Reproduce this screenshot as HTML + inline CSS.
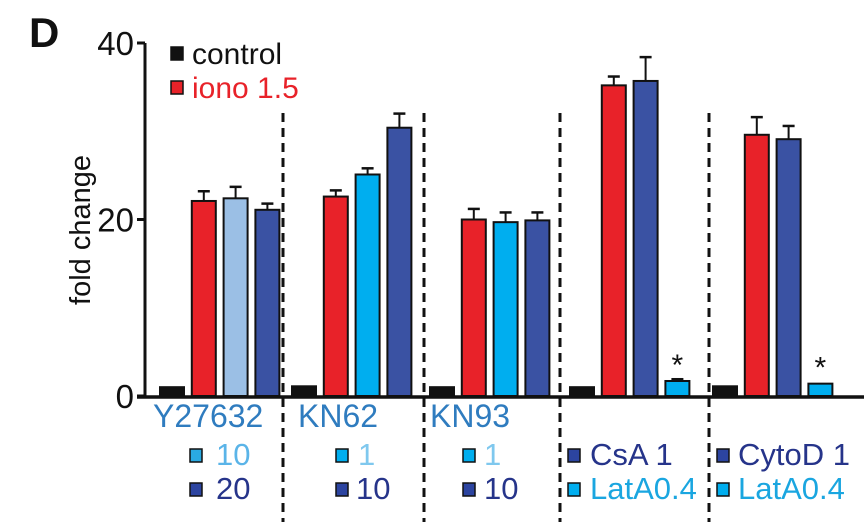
<!DOCTYPE html>
<html><head><meta charset="utf-8"><style>
body{margin:0;background:#fff}
svg{display:block;font-family:"Liberation Sans",Arial,sans-serif}
</style></head><body>
<svg width="864" height="522" viewBox="0 0 864 522">
<text x="29" y="47" font-size="42" font-weight="bold" fill="#111">D</text>
<g id="axes"></g>
<g id="bars"></g>
<g id="labels"></g>
</svg>
<script>
const groups = ["Y27632","KN62","KN93","CsA-LatA","CytoD-LatA"];
const barValues = [[1.0,22.1,22.4,21.1],[1.1,22.6,25.1,30.4],[1.0,20.0,19.7,19.9],[1.0,35.2,35.7,1.7],[1.1,29.6,29.1,1.4]];
const barErrors = [[0.1,1.1,1.3,0.7],[0.1,0.7,0.7,1.6],[0.1,1.2,1.1,0.9],[0.1,1.0,2.7,0.2],[0.1,2.0,1.5,0.1]];
const barColorKeys = [["k","r","lb","b"],["k","r","c","b"],["k","r","c","b"],["k","r","b","c"],["k","r","b","c"]];
const starred = [[false,false,false,false],[false,false,false,false],[false,false,false,false],[false,false,false,true],[false,false,false,true]];
const yTicks = [0,20,40];

const NS="http://www.w3.org/2000/svg";
const colors={k:"#111",r:"#e82229",lb:"#9bbfe5",c:"#00aeef",b:"#3a52a3"};
const y0=396, yTop=43, yMax=40;
function y(v){return y0-(v/yMax)*(y0-yTop);}
const groupStart=[160,292,430,570,713];
function x(gi,bi){return groupStart[gi]+bi*31.8;}
const bw=24;
function el(tag,attrs,parent){const e=document.createElementNS(NS,tag);for(const k in attrs)e.setAttribute(k,attrs[k]);parent.appendChild(e);return e;}
const axes=document.getElementById('axes'), bars=document.getElementById('bars'), labels=document.getElementById('labels');

[283,424,560,709].forEach(dx=>{
  const l=el('line',{x1:dx,x2:dx,y1:113,y2:522,stroke:'#111','stroke-width':3,'stroke-dasharray':'9,6'},axes);
  
  
});
const ya=el('line',{x1:145,x2:145,y1:yTop,y2:y0+1,stroke:'#111','stroke-width':3},axes);


const xa=el('line',{x1:137,x2:864,y1:y0+1,y2:y0+1,stroke:'#111','stroke-width':3.5},axes);


yTicks.forEach(t=>{
  el('line',{x1:137,x2:145,y1:y(t),y2:y(t),stroke:'#111','stroke-width':3},axes);
  const tx=el('text',{x:134,y:y(t)+12,'font-size':33,'text-anchor':'end',fill:'#111'},axes);
  tx.textContent=t;
  
  
});
const yt=el('text',{x:0,y:0,'font-size':29,'text-anchor':'middle',fill:'#111',transform:'translate(90,230) rotate(-90)'},axes);
yt.textContent='fold change';



barValues.forEach((row,gi)=>{
  row.forEach((v,bi)=>{
    const bx=x(gi,bi), top=y(v), et=y(v+barErrors[gi][bi]), cx=bx+bw/2;
    if(barErrors[gi][bi]>0.15){
      el('line',{x1:cx,x2:cx,y1:et,y2:top,stroke:'#111','stroke-width':2},bars);
      el('line',{x1:cx-6,x2:cx+6,y1:et,y2:et,stroke:'#111','stroke-width':2.5},bars);
    }
    const r=el('rect',{x:bx,y:top,width:bw,height:y0-top,fill:colors[barColorKeys[gi][bi]],stroke:'#111','stroke-width':2},bars);
    
    
    if(starred[gi][bi]){
      const s=el('text',{x:cx,y:top-6,'font-size':30,'text-anchor':'middle',fill:'#111'},bars);
      s.textContent='*';
      
      
    }
  });
});

function sw(xx,yy,c,name){
  const r=el('rect',{x:xx,y:yy,width:12,height:13,fill:c,stroke:'#111','stroke-width':1.5},labels);
  
  
}
function txt(xx,yy,s,c,name,size){
  const t=el('text',{x:xx,y:yy,'font-size':size||31,fill:c},labels);
  t.textContent=s;
  
  
}
sw(171,47,colors.k,'legend-swatch-control');
txt(192,64,'control','#111','legend-control',30);
sw(171,81,colors.r,'legend-swatch-iono');
txt(192,98,'iono 1.5','#e82229','legend-iono',30);

const gc='#2f7cbf', dk='#26348a', db='#2c44a0', lc='#1aa6e0', cy='#00aeef';
txt(153,427,'Y27632',gc,'group-label-y27632',32);
txt(298,427,'KN62',gc,'group-label-kn62',32);
txt(430,427,'KN93',gc,'group-label-kn93',32);

sw(190,449,'#2aaae2','swatch-y27632-10');
txt(216,465,'10','#5ab4e8','dose-y27632-10');
sw(190,483,db,'swatch-y27632-20');
txt(216,499,'20',dk,'dose-y27632-20');

sw(336,449,cy,'swatch-kn62-1');
txt(358,465,'1','#7fc8ee','dose-kn62-1');
sw(336,483,db,'swatch-kn62-10');
txt(356,499,'10',dk,'dose-kn62-10');

sw(463,449,cy,'swatch-kn93-1');
txt(484,465,'1','#7fc8ee','dose-kn93-1');
sw(463,483,db,'swatch-kn93-10');
txt(484,499,'10',dk,'dose-kn93-10');

sw(568,449,db,'swatch-csa');
txt(590,465,'CsA  1',dk,'dose-csa');
sw(568,483,cy,'swatch-lata-1');
txt(590,499,'LatA0.4',lc,'dose-lata-1');

sw(717,449,db,'swatch-cytod');
txt(738,465,'CytoD 1',dk,'dose-cytod');
sw(717,483,cy,'swatch-lata-2');
txt(738,499,'LatA0.4',lc,'dose-lata-2');
</script>
</body></html>
